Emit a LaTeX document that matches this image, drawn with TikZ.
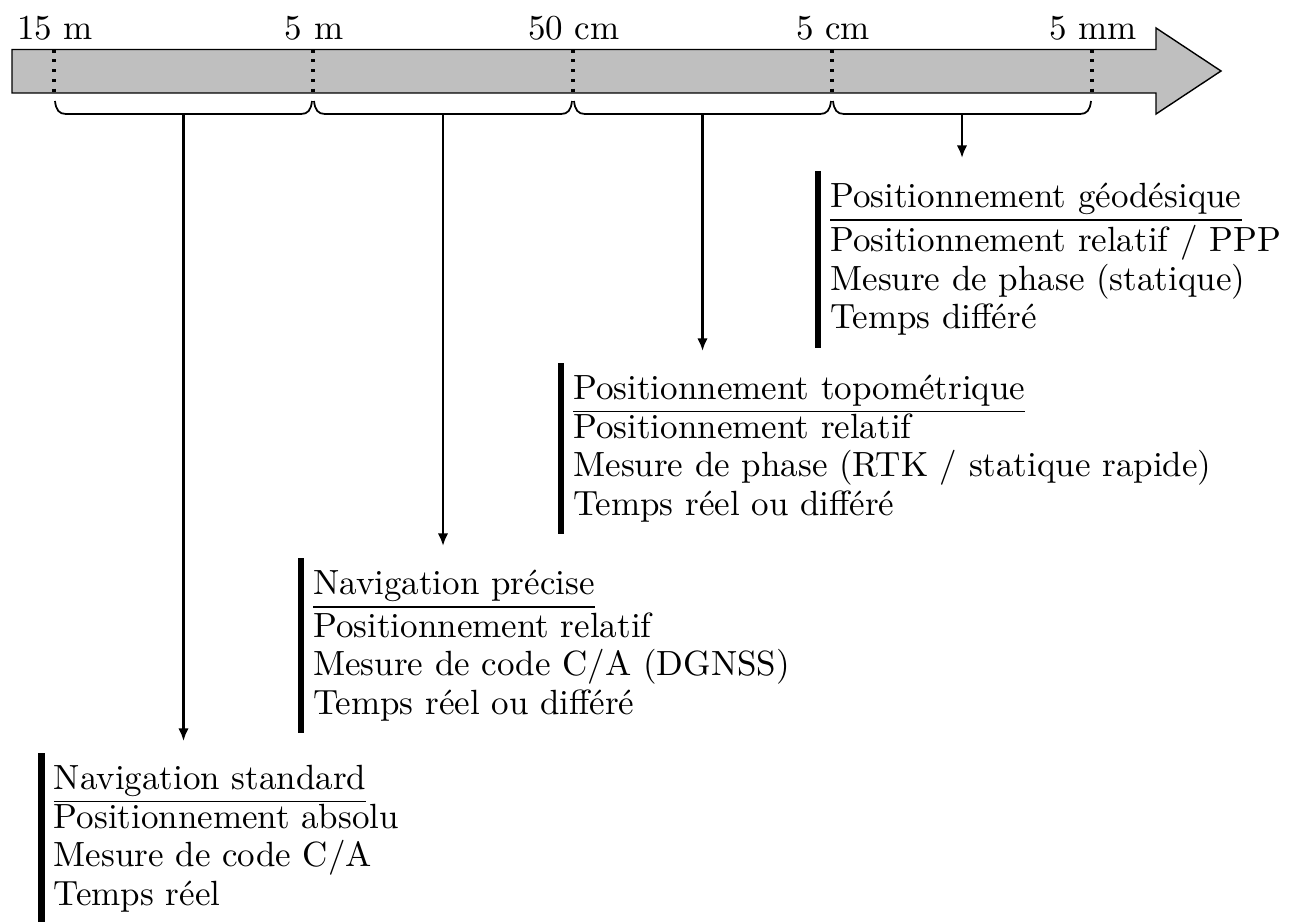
\documentclass[tikz,border=0pt]{standalone}
\usetikzlibrary{arrows.meta}
\begin{document}
\begin{tikzpicture}[x=0.2857pt,y=-0.2857pt,
  bigarrow/.style={fill=black!25,draw=black,line width=0.4pt,line join=miter},
  tickline/.style={line width=0.9pt,dash pattern=on 0.9pt off 1.9pt},
  ticklabel/.style={anchor=base,inner sep=0pt,font=\fontsize{10}{11}\selectfont},
  bracepath/.style={line width=0.5pt,line join=round},
  pointer/.style={line width=0.8pt,-{Latex[length=3.6pt,width=3pt]}},
  infobox/.style={anchor=north west,align=left,font=\fontsize{10}{11}\selectfont,inner sep=3.33pt},
  infobar/.style={line width=1.8pt}]
\useasboundingbox (0,0) rectangle (1292,921);
% big arrow
\draw[bigarrow] (12,49.5) -- (1156,49.5) -- (1156,28) -- (1221,71) -- (1156,114) -- (1156,93) -- (12,93) -- cycle;
% ticks and labels
\foreach \x/\l/\n in {54/15 m/t1, 313/5 m/t2, 573/50 cm/t3, 832/5 cm/t4, 1092/5 mm/t5}{
  \coordinate (\n top) at (\x,49.5);
  \coordinate (\n bot) at (\x,93);
  \draw[tickline] (\n top) -- (\n bot);
  \node[ticklabel] (\n lab) at (\x+1,40) {\l};
}
% braces
\foreach \a/\b/\n in {54/313/1, 313/573/2, 573/832/3, 832/1092/4}{
  \draw[bracepath] (\a+1,101) .. controls (\a+2,110) and (\a+5,114) .. (\a+12,114)
    -- (\b-12,114) .. controls (\b-5,114) and (\b-2,110) .. (\b-1,101);
  \coordinate (m\n) at ({(\a+\b)/2},114);
}
% info boxes
\node[infobox] (b1) at (41.5,753) {\underline{Navigation standard}\\Positionnement absolu\\Mesure de code C/A\\Temps réel};
\node[infobox] (b2) at (301,558) {\underline{Navigation précise}\\Positionnement relatif\\Mesure de code C/A (DGNSS)\\Temps réel ou différé};
\node[infobox] (b3) at (561,363) {\underline{Positionnement topométrique}\\Positionnement relatif\\Mesure de phase (RTK / statique rapide)\\Temps réel ou différé};
\node[infobox] (b4) at (818,171) {\underline{Positionnement géodésique}\\Positionnement relatif / PPP\\Mesure de phase (statique)\\Temps différé};
\foreach \n in {b1,b2,b3,b4}{
  \draw[infobar] (\n.north west) -- (\n.south west);
}
% arrow ends
\coordinate (e1) at (183.5,741);
\coordinate (e2) at (443,546);
\coordinate (e3) at (702.5,351);
\coordinate (e4) at (962,158);
\foreach \n in {1,2,3,4}{
  \draw[pointer] (m\n) -- (e\n);
}
\end{tikzpicture}
\end{document}
